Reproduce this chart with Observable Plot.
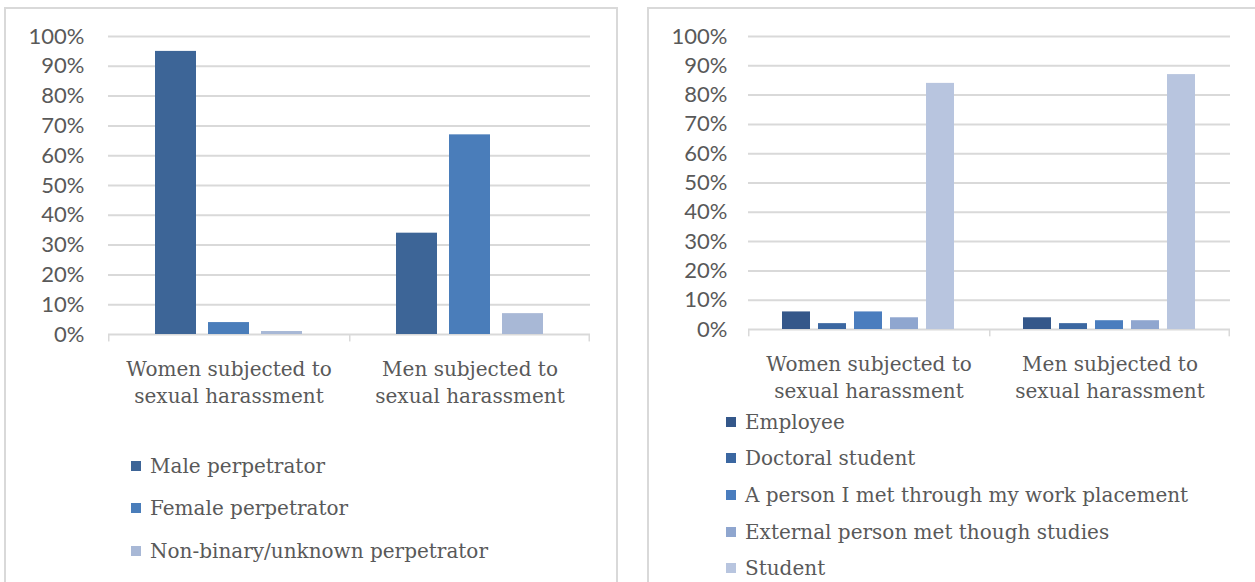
<!DOCTYPE html>
<html><head><meta charset="utf-8">
<script src="https://cdn.jsdelivr.net/npm/d3@7"></script>
<script src="https://cdn.jsdelivr.net/npm/@observablehq/plot@0.6"></script>
<style>
body{margin:0;background:#fff;width:1255px;height:582px;overflow:hidden;position:relative;font-family:"DejaVu Serif",serif;color:#595959}
.panel{position:absolute;border:2px solid #d9d9d9;box-sizing:border-box}
.chart{position:absolute;top:0}
.item{position:absolute;display:flex;align-items:center;white-space:nowrap;font-size:20px;line-height:24px;height:24px}
.sw{display:inline-block;width:10px;height:10px;margin-right:9px}
</style></head><body>
<div class="panel" style="left:4px;top:7px;width:614px;height:620px"></div>
<div class="panel" style="left:647px;top:7px;width:700px;height:620px"></div>
<div id="c1" class="chart" style="left:0px"></div>
<div id="c2" class="chart" style="left:630px"></div>
<div id="l1"></div>
<div id="l2"></div>
<script>
// ---- data ----
const groups = ["Women subjected to sexual harassment", "Men subjected to sexual harassment"];
const groupLabels = ["Women subjected to\nsexual harassment", "Men subjected to\nsexual harassment"];
const yTicks = [0, 0.1, 0.2, 0.3, 0.4, 0.5, 0.6, 0.7, 0.8, 0.9, 1];

const perpSeries = ["Male perpetrator", "Female perpetrator", "Non-binary/unknown perpetrator"];
const perpWomen = [0.95, 0.04, 0.01];
const perpMen = [0.34, 0.67, 0.07];
const perpColors = ["#3d6597", "#4a7dba", "#a8b8d6"];

const relSeries = ["Employee", "Doctoral student", "A person I met through my work placement", "External person met though studies", "Student"];
const relWomen = [0.06, 0.02, 0.06, 0.04, 0.84];
const relMen = [0.04, 0.02, 0.03, 0.03, 0.87];
const relColors = ["#34578a", "#3b67a1", "#4a7dbe", "#8fa6cf", "#b8c5df"];

function chart({series, values, colors, width, height, ml, mr, mt, mb, pi, po, tickPad}) {
  const data = [];
  groups.forEach((g, gi) => series.forEach((s, si) => data.push({group: g, series: s, value: values[gi][si]})));
  const fw = (width - ml - mr) / groups.length;
  return Plot.plot({
    width, height, marginLeft: ml, marginRight: mr, marginTop: mt, marginBottom: mb,
    style: {fontFamily: "Lato", fontSize: "22px", color: "#595959", background: "transparent", overflow: "visible"},
    fx: {domain: groups, padding: 0, axis: null},
    x: {domain: series, paddingInner: pi, paddingOuter: po, axis: null},
    y: {domain: [0, 1], axis: null},
    color: {domain: series, range: colors},
    marks: [
      Plot.gridY(yTicks, {stroke: "#d9d9d9", strokeOpacity: 1, strokeWidth: 2}),
      Plot.axisY(yTicks, {label: null, tickFormat: d3.format(".0%"), tickSize: 0, tickPadding: tickPad, fontSize: 22, fontFamily: "Lato", fill: "#595959"}),
      Plot.rectY([0], {y1: 0, y2: -0.025, fill: "#d9d9d9", insetRight: fw - 2}),
      Plot.rectY([groups[groups.length - 1]], {fx: d => d, y1: 0, y2: -0.025, fill: "#d9d9d9", insetLeft: fw - 2}),
      Plot.barY(data, {fx: "group", x: "series", y: "value", fill: "series"}),
      Plot.text(groupLabels, {fx: (d, i) => groups[i], text: d => d, frameAnchor: "bottom", dy: 22, lineAnchor: "top", lineHeight: 1.35, fontFamily: "DejaVu Serif", fontSize: 20, fill: "#595959"})
    ]
  });
}

document.getElementById("c1").append(chart({
  series: perpSeries, values: [perpWomen, perpMen], colors: perpColors,
  width: 620, height: 420, ml: 107, mr: 30, mt: 36, mb: 86, pi: 0.222, po: 0.847, tickPad: 24
}));
document.getElementById("c2").append(chart({
  series: relSeries, values: [relWomen, relMen], colors: relColors,
  width: 625, height: 420, ml: 117, mr: 25, mt: 36, mb: 91, pi: 0.216, po: 0.872, tickPad: 21
}));

function legend(el, series, colors, x, centers) {
  series.forEach((s, i) => {
    const d = document.createElement("div");
    d.className = "item";
    d.style.left = x + "px";
    d.style.top = (centers[i] - 12) + "px";
    d.innerHTML = `<span class="sw" style="background:${colors[i]}"></span><span></span>`;
    d.lastChild.textContent = s;
    el.append(d);
  });
}
legend(document.getElementById("l1"), perpSeries, perpColors, 131, [466, 508, 551]);
legend(document.getElementById("l2"), relSeries, relColors, 726, [422, 458, 495, 532, 568]);
</script>
</body></html>
